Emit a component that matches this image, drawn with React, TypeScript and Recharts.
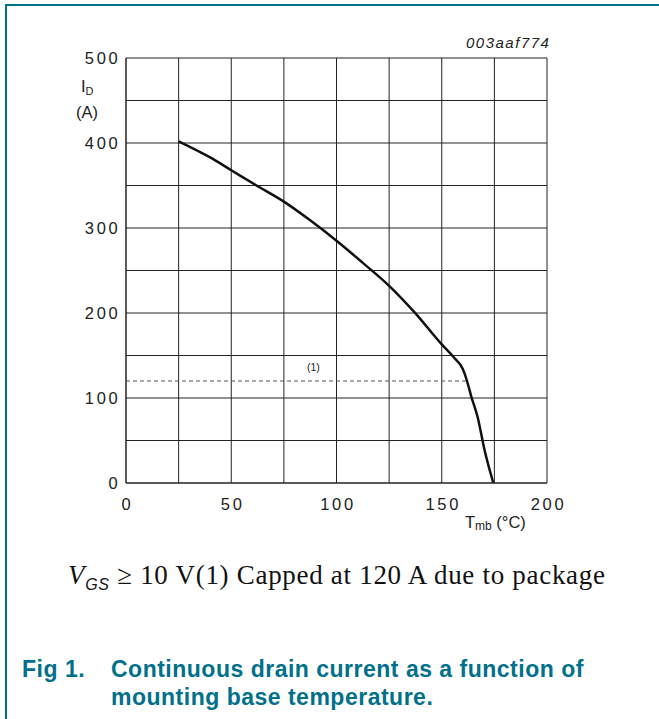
import {
  CartesianGrid,
  Line,
  LineChart,
  ReferenceDot,
  ReferenceLine,
  XAxis,
  YAxis,
} from "recharts";

// mounting base temperature (°C) and continuous drain current (A)
const temperature = [25, 40, 50, 62, 75, 87.5, 100, 112.5, 125, 137, 150, 156, 160, 162, 164, 167, 170.5, 174.5];
const drainCurrent = [402, 383, 368, 350, 331, 309, 285, 259, 232, 201, 163, 147, 134, 120, 102, 78, 37, 0];

const xTicks = [0, 25, 50, 75, 100, 125, 150, 175, 200];
const yTicks = [0, 50, 100, 150, 200, 250, 300, 350, 400, 450, 500];

// package limit
const capCurrent = 120;
const capEndTemp = 162;

const TEAL = "#00708b";
const SANS = "'Liberation Sans', Arial, sans-serif";
const GRID = "#222";

const data = temperature.map((t, i) => ({ t, id: drainCurrent[i] }));

// custom tick so the font size and spacing really stick
function XTick(props: any) {
  const { x, y, payload } = props;
  if (payload.value % 50 !== 0) return <g />;
  return (
    <text
      x={x + 1.5}
      y={y}
      dy="0.71em"
      textAnchor="middle"
      fill="#222"
      fontSize={16.5}
      fontFamily={SANS}
      letterSpacing={2.7}
    >
      {payload.value}
    </text>
  );
}

function YTick(props: any) {
  const { x, y, payload } = props;
  if (payload.value % 100 !== 0) return <g />;
  return (
    <text
      x={x + 2.5}
      y={y}
      dy="0.355em"
      textAnchor="end"
      fill="#222"
      fontSize={16.5}
      fontFamily={SANS}
      letterSpacing={2.7}
    >
      {payload.value}
    </text>
  );
}

export default function App() {
  return (
    <div
      style={{
        position: "absolute",
        left: 0,
        top: 0,
        width: 659,
        height: 719,
        background: "#fff",
        overflow: "hidden",
      }}
    >
      {/* page frame */}
      <div
        style={{
          position: "absolute",
          left: 5,
          top: 4,
          width: 700,
          height: 800,
          borderTop: `2px solid ${TEAL}`,
          borderLeft: `2px solid ${TEAL}`,
        }}
      />

      <div style={{ position: "absolute", left: 0, top: 0 }}>
        <LineChart
          width={659}
          height={540}
          data={data}
          margin={{ top: 58, right: 112, bottom: 27, left: 0 }}
        >
          <CartesianGrid stroke={GRID} strokeWidth={1} />
          <XAxis
            dataKey="t"
            type="number"
            domain={[0, 200]}
            ticks={xTicks}
            interval={0}
            tickLine={false}
            axisLine={{ stroke: GRID }}
            tick={XTick}
            tickMargin={9}
            height={30}
          />
          <YAxis
            type="number"
            domain={[0, 500]}
            ticks={yTicks}
            interval={0}
            tickLine={false}
            axisLine={{ stroke: GRID }}
            tick={YTick}
            width={126}
          />
          <ReferenceLine
            segment={[
              { x: 0, y: capCurrent },
              { x: capEndTemp, y: capCurrent },
            ]}
            stroke="#555"
            strokeDasharray="4 3"
            strokeWidth={1}
          />
          <ReferenceDot
            x={89}
            y={136}
            r={0}
            fill="none"
            stroke="none"
            label={{ value: "(1)", position: "center", fontSize: 10.5, fill: "#222", fontFamily: SANS }}
          />
          <Line
            dataKey="id"
            type="monotone"
            stroke="#111"
            strokeWidth={2.5}
            dot={false}
            isAnimationActive={false}
          />
        </LineChart>
      </div>

      {/* figure code */}
      <div
        style={{
          position: "absolute",
          left: 466,
          top: 34,
          fontFamily: SANS,
          fontStyle: "italic",
          fontSize: 15,
          letterSpacing: 1.5,
          color: "#222",
        }}
      >
        003aaf774
      </div>

      {/* y axis title */}
      <div style={{ position: "absolute", left: 81, top: 77, fontFamily: SANS, fontSize: 16.5, color: "#222" }}>
        I<span style={{ fontSize: 11, position: "relative", top: 3 }}>D</span>
      </div>
      <div style={{ position: "absolute", left: 76, top: 103, fontFamily: SANS, fontSize: 16.5, color: "#222" }}>
        (A)
      </div>

      {/* x axis title */}
      <div style={{ position: "absolute", left: 465, top: 513, fontFamily: SANS, fontSize: 16.5, color: "#222" }}>
        T<span style={{ fontSize: 12, position: "relative", top: 2 }}>mb</span> (°C)
      </div>

      {/* note */}
      <div
        style={{
          position: "absolute",
          left: 68,
          top: 560,
          fontFamily: "'Liberation Serif', 'Times New Roman', serif",
          fontSize: 27,
          letterSpacing: 0.7,
          color: "#111",
          whiteSpace: "nowrap",
        }}
      >
        <i>V</i>
        <i style={{ fontSize: 16, position: "relative", top: 6, fontFamily: SANS }}>GS</i> ≥ 10 V(1) Capped at 120 A due to package
      </div>

      {/* figure caption */}
      <div
        style={{
          position: "absolute",
          left: 22,
          top: 655,
          fontFamily: SANS,
          fontWeight: "bold",
          fontSize: 23,
          letterSpacing: 0.5,
          lineHeight: "28px",
          color: TEAL,
          display: "flex",
        }}
      >
        <div style={{ width: 89 }}>Fig 1.</div>
        <div>
          Continuous drain current as a function of
          <br />
          mounting base temperature.
        </div>
      </div>
    </div>
  );
}
